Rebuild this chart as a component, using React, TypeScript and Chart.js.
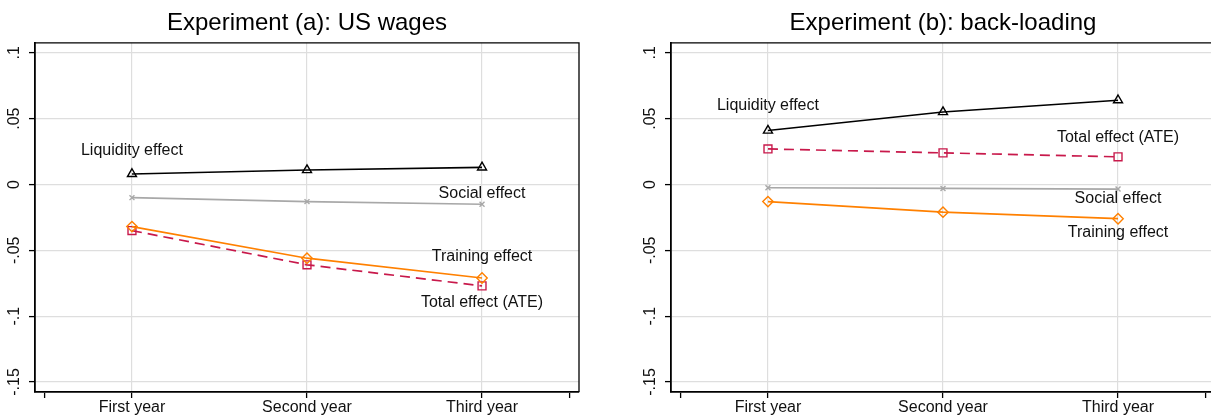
import { useEffect, useRef } from 'react';
import { Chart, registerables } from 'chart.js';

Chart.register(...registerables);

const FONT = '"Liberation Sans", Arial, sans-serif';

const years = ['First year', 'Second year', 'Third year'];
const xTickValues = [0.5, 1, 2, 3, 3.5];
const yTickValues = [-0.15, -0.1, -0.05, 0, 0.05, 0.1];
const yTickLabels = ['-.15', '-.1', '-.05', '0', '.05', '.1'];

// Experiment (a): US wages
const liquidityA = [0.008, 0.011, 0.013];
const socialA = [-0.010, -0.013, -0.015];
const trainingA = [-0.032, -0.056, -0.071];
const totalA = [-0.035, -0.061, -0.077];

// Experiment (b): back-loading
const liquidityB = [0.041, 0.055, 0.064];
const socialB = [-0.0025, -0.003, -0.0035];
const trainingB = [-0.013, -0.021, -0.026];
const totalB = [0.027, 0.024, 0.021];

// where each series name sits: series index, point index, vertical offset in px
const labelsA = [
  { series: 0, point: 0, dy: -23 },
  { series: 1, point: 2, dy: -11 },
  { series: 2, point: 2, dy: -21 },
  { series: 3, point: 2, dy: 17 },
];
const labelsB = [
  { series: 0, point: 0, dy: -25 },
  { series: 1, point: 2, dy: 10 },
  { series: 2, point: 2, dy: 14 },
  { series: 3, point: 2, dy: -19 },
];

const toPoints = (vals: number[]) => vals.map((v, i) => ({ x: i + 1, y: v }));

// draws series names next to a chosen marker (Stata style mlabel)
const markerLabels = {
  id: 'markerLabels',
  afterDatasetsDraw(chart: any, _args: any, opts: any) {
    const { ctx } = chart;
    const xs = chart.scales.x;
    const ys = chart.scales.y;
    ctx.save();
    ctx.font = `16px ${FONT}`;
    ctx.fillStyle = '#111';
    ctx.textAlign = 'center';
    ctx.textBaseline = 'middle';
    for (const p of opts.items || []) {
      const ds = chart.data.datasets[p.series];
      const pt = ds.data[p.point];
      ctx.fillText(ds.label, xs.getPixelForValue(pt.x), ys.getPixelForValue(pt.y) + p.dy);
    }
    ctx.restore();
  },
};

// top and right edges of the plot box
const plotFrame = {
  id: 'plotFrame',
  afterDraw(chart: any) {
    const { ctx, chartArea: a } = chart;
    ctx.save();
    ctx.strokeStyle = '#000';
    ctx.lineWidth = 1.3;
    ctx.beginPath();
    ctx.moveTo(a.left, a.top);
    ctx.lineTo(a.right, a.top);
    ctx.lineTo(a.right, a.bottom);
    ctx.stroke();
    ctx.restore();
  },
};

interface PanelProps {
  title: string;
  liquidity: number[];
  social: number[];
  training: number[];
  total: number[];
  labels: { series: number; point: number; dy: number }[];
  left: number;
}

const Panel = ({ title, liquidity, social, training, total, labels, left }: PanelProps) => {
  const canvasRef = useRef<HTMLCanvasElement | null>(null);

  useEffect(() => {
    if (!canvasRef.current) return;

    const chart = new Chart(canvasRef.current, {
      type: 'line',
      data: {
        datasets: [
          {
            label: 'Liquidity effect',
            data: toPoints(liquidity),
            borderColor: '#000',
            borderWidth: 1.6,
            pointStyle: 'triangle',
            pointRadius: 5.2,
            pointBorderWidth: 1.4,
            pointBorderColor: '#000',
            pointBackgroundColor: 'rgba(0,0,0,0)',
          },
          {
            label: 'Social effect',
            data: toPoints(social),
            borderColor: '#a8a8a8',
            borderWidth: 1.7,
            pointStyle: 'crossRot',
            pointRadius: 3.5,
            pointBorderWidth: 1.4,
            pointBorderColor: '#a8a8a8',
          },
          {
            label: 'Training effect',
            data: toPoints(training),
            borderColor: '#ff8000',
            borderWidth: 1.7,
            pointStyle: 'rectRot',
            pointRadius: 5.2,
            pointBorderWidth: 1.4,
            pointBorderColor: '#ff8000',
            pointBackgroundColor: 'rgba(0,0,0,0)',
          },
          {
            label: 'Total effect (ATE)',
            data: toPoints(total),
            borderColor: '#c8194b',
            borderWidth: 1.7,
            borderDash: [10, 6],
            pointStyle: 'rect',
            pointRadius: 5.6,
            pointBorderWidth: 1.4,
            pointBorderColor: '#c8194b',
            pointBackgroundColor: 'rgba(0,0,0,0)',
          },
        ],
      },
      options: {
        animation: false,
        responsive: false,
        layout: { padding: { left: 0, right: 21, top: 0, bottom: 0 } },
        plugins: {
          legend: { display: false },
          tooltip: { enabled: false },
          title: {
            display: true,
            text: title,
            fullSize: false,
            color: '#000',
            font: { family: FONT, size: 24, weight: 'normal' },
            padding: { top: 9, bottom: 5 },
          },
          markerLabels: { items: labels },
        } as any,
        scales: {
          x: {
            type: 'linear',
            min: 0.446,
            max: 3.554,
            afterBuildTicks: (s: any) => {
              s.ticks = xTickValues.map((v) => ({ value: v }));
            },
            afterFit: (s: any) => {
              s.height = 23;
            },
            ticks: {
              autoSkip: false,
              maxRotation: 0,
              padding: 0,
              color: '#111',
              font: { family: FONT, size: 16 },
              callback: (v: any) => (Number.isInteger(v) ? years[v - 1] : ''),
            },
            grid: {
              color: (c: any) => (Number.isInteger(c.tick?.value) ? '#dedede' : 'rgba(0,0,0,0)'),
              lineWidth: 1.2,
              tickLength: 6,
              tickColor: '#000',
              tickWidth: 1.3,
            },
            border: { color: '#000', width: 1.8 },
          },
          y: {
            min: -0.1576,
            max: 0.1076,
            afterBuildTicks: (s: any) => {
              s.ticks = yTickValues.map((v) => ({ value: v }));
            },
            afterFit: (s: any) => {
              s.width = 35;
            },
            ticks: {
              minRotation: 90,
              maxRotation: 90,
              crossAlign: 'center',
              padding: 1,
              color: '#111',
              font: { family: FONT, size: 16 },
              callback: (v: any) => {
                const i = yTickValues.findIndex((t) => Math.abs(t - v) < 1e-9);
                return i >= 0 ? yTickLabels[i] : '';
              },
            },
            grid: {
              color: '#dedede',
              lineWidth: 1.2,
              tickLength: 6,
              tickColor: '#000',
              tickWidth: 1.3,
            },
            border: { color: '#000', width: 1.8 },
          },
        },
      } as any,
      plugins: [markerLabels, plotFrame],
    });

    return () => {
      chart.destroy();
    };
  }, [title, liquidity, social, training, total, labels]);

  return (
    <div style={{ position: 'absolute', left, top: 0, width: 600, height: 415 }}>
      <canvas ref={canvasRef} width={600} height={415} />
    </div>
  );
};

export default function App() {
  return (
    <div
      style={{
        position: 'fixed',
        left: 0,
        top: 0,
        width: 1211,
        height: 415,
        overflow: 'hidden',
        background: '#fff',
      }}
    >
      <Panel
        title="Experiment (a): US wages"
        liquidity={liquidityA}
        social={socialA}
        training={trainingA}
        total={totalA}
        labels={labelsA}
        left={0}
      />
      <Panel
        title="Experiment (b): back-loading"
        liquidity={liquidityB}
        social={socialB}
        training={trainingB}
        total={totalB}
        labels={labelsB}
        left={636}
      />
    </div>
  );
}
